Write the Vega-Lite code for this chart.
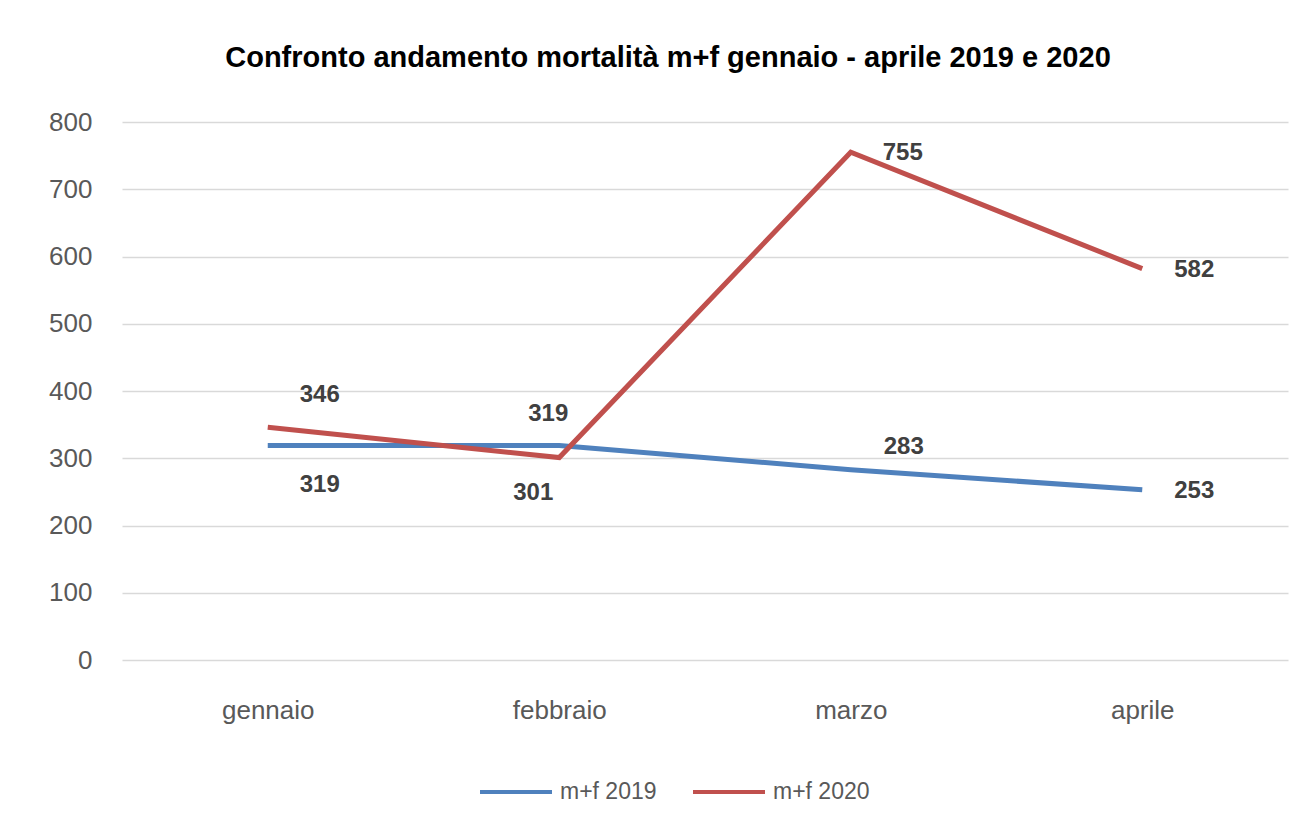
{
  "$schema": "https://vega.github.io/schema/vega-lite/v6.json",
  "width": 1166,
  "height": 538,
  "autosize": {"type": "none"},
  "padding": {"left": 122, "top": 122, "right": 27, "bottom": 171},
  "background": "white",
  "config": {"view": {"stroke": null}, "font": "Liberation Sans"},
  "title": {
    "text": "Confronto andamento mortalità m+f gennaio - aprile 2019 e 2020",
    "fontSize": 29, "fontWeight": "bold", "color": "#000000",
    "anchor": "middle", "dx": -37, "offset": 36, "font": "Liberation Sans"
  },
  "data": {"values": [
    {"mese": "gennaio", "serie": "m+f 2019", "valore": 319},
    {"mese": "febbraio", "serie": "m+f 2019", "valore": 319},
    {"mese": "marzo", "serie": "m+f 2019", "valore": 283},
    {"mese": "aprile", "serie": "m+f 2019", "valore": 253},
    {"mese": "gennaio", "serie": "m+f 2020", "valore": 346},
    {"mese": "febbraio", "serie": "m+f 2020", "valore": 301},
    {"mese": "marzo", "serie": "m+f 2020", "valore": 755},
    {"mese": "aprile", "serie": "m+f 2020", "valore": 582}
  ]},
  "encoding": {
    "x": {
      "field": "mese", "type": "ordinal",
      "sort": ["gennaio", "febbraio", "marzo", "aprile"],
      "scale": {"type": "point", "padding": 0.5},
      "axis": {"title": null, "labelAngle": 0, "labelFontSize": 26, "labelColor": "#595959", "labelPadding": 37, "ticks": false, "domain": false, "grid": false}
    },
    "y": {
      "field": "valore", "type": "quantitative",
      "scale": {"domain": [0, 800], "nice": false},
      "axis": {"title": null, "values": [0, 100, 200, 300, 400, 500, 600, 700, 800], "labelFontSize": 26, "labelColor": "#595959", "labelPadding": 30, "ticks": false, "domain": false, "gridColor": "#D9D9D9", "gridWidth": 1.5}
    }
  },
  "layer": [
    {
      "mark": {"type": "line", "strokeWidth": 5, "strokeCap": "butt"},
      "encoding": {
        "color": {
          "field": "serie", "type": "nominal",
          "scale": {"domain": ["m+f 2019", "m+f 2020"], "range": ["#4F81BD", "#C0504D"]},
          "legend": {"title": null, "orient": "none", "legendX": 356, "legendY": 632, "direction": "horizontal", "symbolType": "stroke", "symbolSize": 5184, "symbolStrokeWidth": 4, "labelFontSize": 23, "labelColor": "#595959", "columnPadding": 28, "labelOffset": 6}
        }
      }
    },
    {
      "transform": [{"filter": "(datum.serie == 'm+f 2020' && datum.mese != 'gennaio' && datum.mese != 'febbraio') || (datum.serie == 'm+f 2019' && datum.mese == 'aprile')"}],
      "mark": {"type": "text", "fontSize": 24, "fontWeight": "bold", "color": "#404040", "dx": 52, "dy": 1},
      "encoding": {"text": {"field": "valore", "type": "quantitative"}}
    },
    {
      "transform": [{"filter": "datum.serie == 'm+f 2020' && datum.mese == 'gennaio'"}],
      "mark": {"type": "text", "fontSize": 24, "fontWeight": "bold", "color": "#404040", "dx": 52, "dy": -32},
      "encoding": {"text": {"field": "valore", "type": "quantitative"}}
    },
    {
      "transform": [{"filter": "datum.serie == 'm+f 2019' && datum.mese == 'marzo'"}],
      "mark": {"type": "text", "fontSize": 24, "fontWeight": "bold", "color": "#404040", "dx": 53, "dy": -23},
      "encoding": {"text": {"field": "valore", "type": "quantitative"}}
    },
    {
      "transform": [{"filter": "datum.serie == 'm+f 2019' && datum.mese == 'gennaio'"}],
      "mark": {"type": "text", "fontSize": 24, "fontWeight": "bold", "color": "#404040", "dx": 52, "dy": 40},
      "encoding": {"text": {"field": "valore", "type": "quantitative"}}
    },
    {
      "transform": [{"filter": "datum.serie == 'm+f 2019' && datum.mese == 'febbraio'"}],
      "mark": {"type": "text", "fontSize": 24, "fontWeight": "bold", "color": "#404040", "dx": -11, "dy": -31},
      "encoding": {"text": {"field": "valore", "type": "quantitative"}}
    },
    {
      "transform": [{"filter": "datum.serie == 'm+f 2020' && datum.mese == 'febbraio'"}],
      "mark": {"type": "text", "fontSize": 24, "fontWeight": "bold", "color": "#404040", "dx": -26, "dy": 35},
      "encoding": {"text": {"field": "valore", "type": "quantitative"}}
    }
  ]
}
